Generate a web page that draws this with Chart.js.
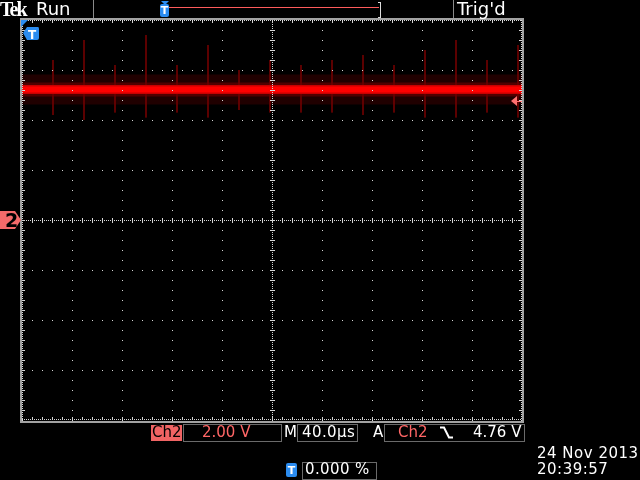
<!DOCTYPE html>
<html lang="en">
<head>
<meta charset="UTF-8">
<title>Tek scope capture</title>
<script src="https://cdn.jsdelivr.net/npm/chart.js"></script>
<style>
  body { margin: 0; background: #000; }
  .screen { position: relative; width: 640px; height: 480px; overflow: hidden; background: #000; }
  canvas { position: absolute; left: 0; top: 0; }
  .t { position: absolute; white-space: nowrap; font-family: "DejaVu Sans"; font-size: 15px; line-height: 1; color: #fff; }
  .salmon { color: #ff6666; }
  .box { position: absolute; border: 1px solid #6a6a6a; box-sizing: border-box; }
  .vsep { position: absolute; top: 0; width: 1px; height: 18px; background: #8a8a8a; }
  .tbadge { position: absolute; background: #2b8cf0; border-radius: 2px; color: #fff;
            font: bold 11px "DejaVu Sans"; line-height: 1; text-align: center; }
</style>
</head>
<body>
<div class="screen">
  <canvas id="scope" width="640" height="480"></canvas>

  <!-- top status bar -->
  <div class="t" style="left:0;top:-1px;font:bold 20px 'Liberation Serif';letter-spacing:-2px;line-height:1">Tek</div>
  <div class="t" style="left:36px;top:0;font-size:18px">Run</div>
  <div class="vsep" style="left:93px"></div>
  <div class="tbadge" style="left:160px;top:4px;width:9px;height:13px;padding-top:1px;box-sizing:border-box">T</div>
  <div style="position:absolute;left:161px;top:1px;width:0;height:0;border-left:4px solid transparent;border-right:4px solid transparent;border-top:4px solid #2b8cf0"></div>
  <div style="position:absolute;left:169px;top:7px;width:210px;height:1px;background:#ff5c5c"></div>
  <div style="position:absolute;left:378px;top:2px;width:2px;height:14px;border:1px solid #ddd;border-left:none;box-sizing:content-box"></div>
  <div class="vsep" style="left:453px"></div>
  <div class="t" style="left:457px;top:0;font-size:18px">Trig'd</div>

  <!-- ground / trigger markers text -->
  <div class="t" style="left:5px;top:211px;font:bold 19px 'DejaVu Sans';color:#000;line-height:1">2</div>
  <div class="t" style="left:28px;top:28px;font:bold 12px 'DejaVu Sans'">T</div>

  <!-- bottom readouts -->
  <div style="position:absolute;left:151px;top:425px;width:31px;height:16px;background:#f06464"></div>
  <div class="t" style="left:152px;top:425px;color:#000">Ch2</div>
  <div class="box" style="left:183px;top:424px;width:99px;height:18px"></div>
  <div class="t salmon" style="left:202px;top:425px">2.00 V</div>
  <div class="t" style="left:284px;top:425px">M</div>
  <div class="box" style="left:297px;top:424px;width:61px;height:18px"></div>
  <div class="t" style="left:302px;top:425px;letter-spacing:0.4px">40.0µs</div>
  <div class="t" style="left:373px;top:425px">A</div>
  <div class="box" style="left:384px;top:424px;width:141px;height:18px"></div>
  <div class="t salmon" style="left:398px;top:425px">Ch2</div>
  <svg style="position:absolute;left:440px;top:426px" width="13" height="13">
    <polyline points="0,1.5 4,1.5 9,11.5 13,11.5" fill="none" stroke="#fff" stroke-width="2"/>
  </svg>
  <div class="t" style="left:473px;top:425px">4.76 V</div>

  <div class="tbadge" style="left:286px;top:463px;width:11px;height:14px;padding-top:2px;box-sizing:border-box">T</div>
  <div class="box" style="left:302px;top:462px;width:75px;height:18px"></div>
  <div class="t" style="left:305px;top:462px;letter-spacing:0.4px">0.000 %</div>

  <div class="t" style="left:537px;top:446px;letter-spacing:0.5px">24 Nov 2013</div>
  <div class="t" style="left:537px;top:462px;letter-spacing:0.5px">20:39:57</div>
</div>

<script>
// Ch2, 2.00 V/div, 40.0 µs/div, trigger at left edge
const timeRange = [0, 400];        // µs across the 10 divisions
const voltRange = [-8, 8];         // V across the 8 divisions
const trigLevel = 4.76;            // V

// main trace (flat level)
const traceTimes = [0, 50, 100, 150, 200, 250, 300, 350, 400];
const traceVolts = [5.22, 5.22, 5.22, 5.22, 5.22, 5.22, 5.22, 5.22, 5.22];

// short glitches riding on the level
const spikeTimes = [24.8, 49.6, 74.4, 99.2, 124.0, 148.8, 173.6, 198.4,
                    223.2, 248.0, 272.8, 297.6, 322.4, 347.2, 372.0, 396.8];
const spikeHigh  = [6.4, 7.2, 6.2, 7.4, 6.2, 7.0, 6.0, 6.4,
                    6.2, 6.4, 6.6, 6.2, 6.8, 7.2, 6.4, 7.0];
const spikeLow   = [4.2, 4.0, 4.3, 4.1, 4.3, 4.1, 4.4, 4.3,
                    4.3, 4.3, 4.2, 4.3, 4.1, 4.1, 4.3, 4.1];

// each dataset gets its own copy (Chart.js hooks into the arrays)
const tracePts = () => traceTimes.map((t, i) => ({ x: t, y: traceVolts[i] }));
const spikePts = [];
spikeTimes.forEach((t, i) => {
    spikePts.push({ x: t, y: spikeHigh[i] }, { x: t, y: spikeLow[i] }, { x: t, y: null });
});

// graticule, frame and markers
const scopeOverlay = {
    id: 'scopeOverlay',
    afterDatasetsDraw(chart) {
        const ctx = chart.ctx;
        const { left, top, right, bottom } = chart.chartArea;
        const div = (right - left) / 10;
        const midX = left + div * 5, midY = top + div * 4;
        ctx.save();
        ctx.fillStyle = '#d6d6d6';
        // ordinary grid lines: a dot every 10px
        for (let i = 1; i < 10; i++) {
            if (i === 5) continue;
            const x = left + div * i;
            for (let y = top; y <= bottom; y += 10) ctx.fillRect(x, y, 1, 1);
        }
        for (let j = 1; j < 8; j++) {
            if (j === 4) continue;
            const y = top + div * j;
            for (let x = left; x <= right; x += 10) ctx.fillRect(x, y, 1, 1);
        }
        // centre axes: fine dots + ticks
        for (let x = left; x <= right; x += 2) ctx.fillRect(x, midY, 1, 1);
        for (let y = top; y <= bottom; y += 2) ctx.fillRect(midX, y, 1, 1);
        for (let x = left + 10; x < right; x += 10) ctx.fillRect(x, midY - 2, 1, 5);
        for (let y = top + 10; y < bottom; y += 10) ctx.fillRect(midX - 2, y, 5, 1);
        // edge ticks
        for (let x = left; x <= right; x += 2) { ctx.fillRect(x, top, 1, 1); ctx.fillRect(x, bottom - 1, 1, 1); }
        for (let y = top; y <= bottom; y += 2) { ctx.fillRect(left, y, 1, 1); ctx.fillRect(right - 1, y, 1, 1); }
        for (let x = left + 10; x < right; x += 10) { ctx.fillRect(x, top, 1, 3); ctx.fillRect(x, bottom - 3, 1, 3); }
        for (let y = top + 10; y < bottom; y += 10) { ctx.fillRect(left, y, 3, 1); ctx.fillRect(right - 3, y, 3, 1); }

        // frame
        ctx.fillStyle = '#a2a2a2';
        ctx.fillRect(left - 2, top - 2, right - left + 4, 2);
        ctx.fillRect(left - 2, bottom + 1, right - left + 4, 2);
        ctx.fillRect(left - 2, top - 2, 2, bottom - top + 5);
        ctx.fillRect(right, top - 2, 2, bottom - top + 5);

        // Ch2 ground marker
        const g = chart.scales.y.getPixelForValue(0);
        ctx.fillStyle = '#f36a6a';
        ctx.beginPath();
        ctx.moveTo(0, g - 9); ctx.lineTo(15, g - 9); ctx.lineTo(21, g);
        ctx.lineTo(15, g + 9); ctx.lineTo(0, g + 9); ctx.closePath(); ctx.fill();

        // trigger level arrow
        const ty = chart.scales.y.getPixelForValue(trigLevel);
        ctx.fillStyle = '#ff7070';
        ctx.beginPath();
        ctx.moveTo(right - 11, ty); ctx.lineTo(right - 5, ty - 5); ctx.lineTo(right - 5, ty + 5);
        ctx.closePath(); ctx.fill();
        ctx.fillRect(right - 6, ty, 6, 1);

        // trigger position marker (top-left)
        ctx.fillStyle = '#2b8cf0';
        ctx.beginPath();
        ctx.moveTo(left - 1, top); ctx.lineTo(left + 6, top); ctx.lineTo(left - 1, top + 7);
        ctx.closePath(); ctx.fill();
        ctx.beginPath();
        ctx.moveTo(left + 1, top + 13); ctx.lineTo(left + 5, top + 7); ctx.lineTo(left + 16, top + 7);
        ctx.quadraticCurveTo(left + 17, top + 7, left + 17, top + 9);
        ctx.lineTo(left + 17, top + 18); ctx.quadraticCurveTo(left + 17, top + 20, left + 15, top + 20);
        ctx.lineTo(left + 5, top + 20); ctx.closePath(); ctx.fill();
        ctx.restore();
    }
};

// Chart.js paints dataset 0 last, so the bright core comes first
new Chart(document.getElementById('scope'), {
    type: 'line',
    data: {
        datasets: [
            { data: tracePts(), borderColor: '#ff0000', borderWidth: 6 },
            { data: tracePts(), borderColor: '#c80000', borderWidth: 9 },
            { data: spikePts, borderColor: '#6a0000', borderWidth: 1, spanGaps: false },
            { data: tracePts(), borderColor: '#500000', borderWidth: 14 },
            { data: tracePts(), borderColor: '#200000', borderWidth: 30 }
        ]
    },
    options: {
        responsive: false,
        animation: false,
        layout: { padding: { left: 22, top: 20, right: 118, bottom: 60 } },
        elements: { point: { radius: 0 }, line: { tension: 0 } },
        datasets: { line: { clip: 0 } },
        scales: {
            x: { type: 'linear', min: timeRange[0], max: timeRange[1], display: false },
            y: { type: 'linear', min: voltRange[0], max: voltRange[1], display: false }
        },
        plugins: { legend: { display: false }, tooltip: { enabled: false } }
    },
    plugins: [scopeOverlay]
});
</script>
</body>
</html>
